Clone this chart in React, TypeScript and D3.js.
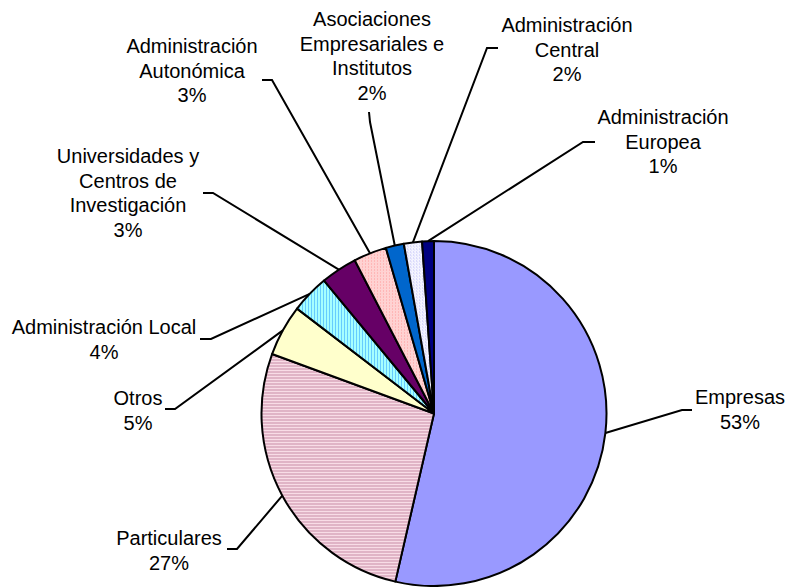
import React from "react";
import * as d3 from "d3";

// chart values (percent of total), clockwise from 12 o'clock
const categories = [
  "Empresas",
  "Particulares",
  "Otros",
  "Administración Local",
  "Universidades y Centros de Investigación",
  "Administración Autonómica",
  "Asociaciones Empresariales e Institutos",
  "Administración Central",
  "Administración Europea",
];
const values = [53.6, 27.0, 4.8, 3.6, 3.4, 3.1, 1.7, 1.7, 1.1];
const pctLabels = ["53%", "27%", "5%", "4%", "3%", "3%", "2%", "2%", "1%"];
const labelLines = [
  ["Empresas"],
  ["Particulares"],
  ["Otros"],
  ["Administración Local"],
  ["Universidades y", "Centros de", "Investigación"],
  ["Administración", "Autonómica"],
  ["Asociaciones", "Empresariales e", "Institutos"],
  ["Administración", "Central"],
  ["Administración", "Europea"],
];

const W = 789;
const H = 587;
const cx = 434;
const cy = 413.5;
const R = 172.5;
const lineH = 24.5;

const fills = [
  "#9999FF",
  "url(#pPart)",
  "#FFFFCC",
  "url(#pLocal)",
  "#660066",
  "url(#pAuto)",
  "#0066CC",
  "url(#pCentral)",
  "#000080",
];

// label placement: text centre x, first baseline, leader start, leader elbow
const labelPos = [
  { x: 740, y: 404, s: [692, 410], e: [682, 410] },
  { x: 169, y: 545, s: [227, 549], e: [237, 549] },
  { x: 138, y: 405, s: [165, 409], e: [175, 409] },
  { x: 104, y: 334, s: [200, 339], e: [211, 339] },
  { x: 128, y: 163, s: [203, 193], e: [213, 193] },
  { x: 192, y: 53, s: [262, 80], e: [272, 80] },
  { x: 372, y: 26, s: [369, 112], e: [370, 122] },
  { x: 567, y: 32, s: [498, 48], e: [487, 48] },
  { x: 663, y: 124, s: [595, 142], e: [583, 142] },
];

export default function App() {
  const pie = d3.pie<number>().sort(null).value((d) => d)(values);
  const arc = d3.arc<d3.PieArcDatum<number>>().innerRadius(0).outerRadius(R);
  const edge = d3.arc<d3.PieArcDatum<number>>().innerRadius(R).outerRadius(R);
  const line = d3.line();

  return (
    <svg
      width={W}
      height={H}
      style={{ position: "absolute", left: 0, top: 0, background: "#fff" }}
      fontFamily="'Liberation Sans', Arial, sans-serif"
      fontSize={20}
    >
      <defs>
        <pattern id="pPart" width="4" height="3" patternUnits="userSpaceOnUse">
          <rect width="4" height="3" fill="#F8DCE6" />
          <rect width="4" height="1" fill="#C88CA6" />
        </pattern>
        <pattern id="pLocal" width="3" height="4" patternUnits="userSpaceOnUse">
          <rect width="3" height="4" fill="#A6FFFF" />
          <rect width="1" height="4" fill="#66CCFF" />
        </pattern>
        <pattern id="pAuto" width="3" height="3" patternUnits="userSpaceOnUse">
          <rect width="3" height="3" fill="#FFD2D2" />
          <rect width="1" height="1" fill="#FF9C9C" />
        </pattern>
        <pattern id="pCentral" width="3" height="3" patternUnits="userSpaceOnUse">
          <rect width="3" height="3" fill="#F4F4FF" />
          <rect width="1" height="1" fill="#BFBFF6" />
          <rect x="1" y="1" width="1" height="1" fill="#D8D8FA" />
        </pattern>
      </defs>

      <g transform={`translate(${cx},${cy})`}>
        {pie.map((d, i) => (
          <path
            key={categories[i]}
            d={arc(d) || ""}
            fill={fills[i]}
            stroke="#000"
            strokeWidth={2}
            strokeLinejoin="round"
          />
        ))}
      </g>

      {pie.map((d, i) => {
        const [mx, my] = edge.centroid(d);
        const p = labelPos[i];
        return (
          <path
            key={"l" + i}
            d={line([p.s as [number, number], p.e as [number, number], [cx + mx, cy + my]]) || ""}
            fill="none"
            stroke="#000"
            strokeWidth={2}
          />
        );
      })}

      {labelLines.map((lines, i) => {
        const p = labelPos[i];
        const all = [...lines, pctLabels[i]];
        return (
          <text key={"t" + i} textAnchor="middle" fill="#000">
            {all.map((t, j) => (
              <tspan key={j} x={p.x} y={p.y + j * lineH}>
                {t}
              </tspan>
            ))}
          </text>
        );
      })}
    </svg>
  );
}
